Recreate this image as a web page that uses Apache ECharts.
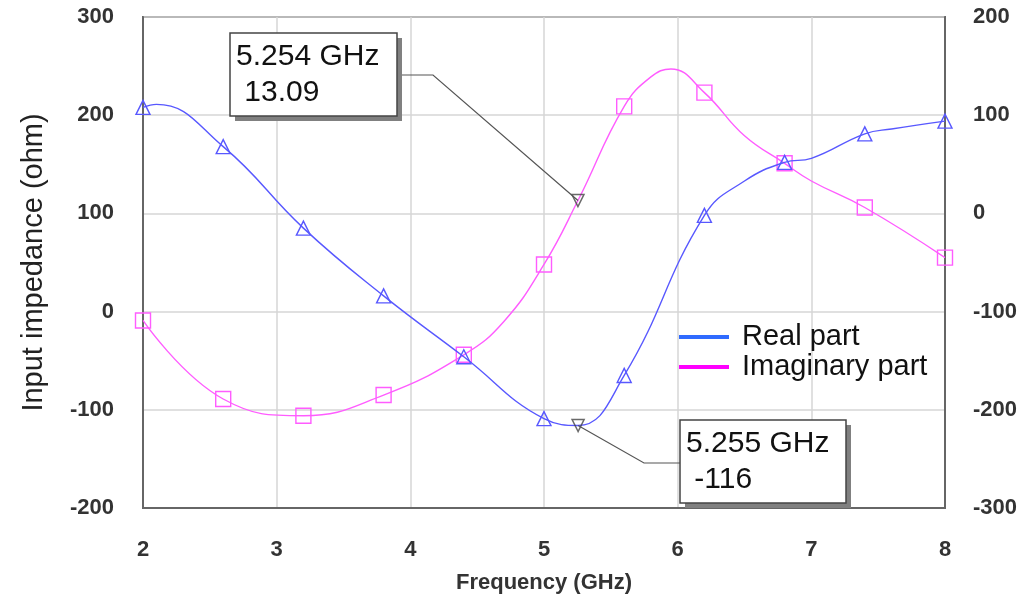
<!DOCTYPE html>
<html>
<head>
<meta charset="utf-8">
<script src="https://cdn.jsdelivr.net/npm/echarts@6/dist/echarts.min.js"></script>
<style>
  html, body { margin: 0; padding: 0; background: #fff; }
  #chart { width: 1029px; height: 599px; }
</style>
</head>
<body>
<div id="chart"></div>
<script>
// frequencies where the symbols sit (GHz)
var markerFreq = [2, 2.6, 3.2, 3.8, 4.4, 5.0, 5.6, 6.2, 6.8, 7.4, 8.0];

// real part (left axis, ohm)
var realFreq = [2, 2.1, 2.6, 3.2, 3.8, 4.4, 5.0, 5.255, 5.6, 6.2, 6.5, 6.8, 7.0, 7.4, 7.6, 8.0];
var realVal  = [208, 211, 168, 85, 16, -46, -109, -116, -65, 98, 133, 152, 156, 181, 186, 194];

// imaginary part (right axis, ohm)
var imagFreq = [2, 2.6, 3.2, 3.8, 4.4, 4.7, 5.0, 5.254, 5.6, 5.8, 5.95, 6.2, 6.5, 6.8, 7.0, 7.4, 8.0];
var imagVal  = [-109, -189, -206, -185, -144, -110, -52, 13.09, 109, 139, 147, 123, 79, 51, 33, 6, -45];

// marker readouts
var mkImag = [5.254, 13.09];
var mkReal = [5.255, -116];

var FONT = '"Liberation Sans", Arial, sans-serif';
var blue = '#5858ff';
var pink = '#ff5cff';

function buildData(freq, vals) {
  var out = [];
  for (var i = 0; i < freq.length; i++) {
    var item = { value: [freq[i], vals[i]] };
    if (markerFreq.indexOf(freq[i]) < 0) item.symbol = 'none';
    out.push(item);
  }
  return out;
}

var chartDom = document.getElementById('chart');
var myChart = echarts.init(chartDom);
var option;

var tickLabel = { fontFamily: FONT, fontSize: 22, fontWeight: 'bold', color: '#333' };

option = {
  backgroundColor: '#fff',
  animation: false,
  grid: { left: 143, right: 84, top: 17, bottom: 87, show: true, borderColor: '#666', borderWidth: 2 },
  legend: {
    orient: 'vertical',
    left: 674,
    top: 317,
    itemWidth: 50,
    itemHeight: 4,
    itemGap: 0,
    icon: 'rect',
    textStyle: { fontFamily: FONT, fontSize: 29, color: '#111', lineHeight: 30, padding: [0, 0, 0, 8] },
    data: [
      { name: 'Real part', itemStyle: { color: '#2f6bff', borderWidth: 0 } },
      { name: 'Imaginary part', itemStyle: { color: '#ff00ff', borderWidth: 0 } }
    ]
  },
  xAxis: {
    type: 'value',
    min: 2,
    max: 8,
    interval: 1,
    name: 'Frequency (GHz)',
    nameLocation: 'middle',
    nameGap: 64,
    nameTextStyle: { fontFamily: FONT, fontSize: 22, fontWeight: 'bold', color: '#333' },
    axisLine: { show: true, onZero: false, lineStyle: { color: '#666', width: 2 } },
    axisTick: { show: false },
    axisLabel: Object.assign({ margin: 31 }, tickLabel),
    splitLine: { show: true, lineStyle: { color: '#d6d6d6', width: 1.5 } }
  },
  yAxis: [
    {
      type: 'value',
      min: -200,
      max: 300,
      interval: 100,
      name: 'Input impedance (ohm)',
      nameLocation: 'middle',
      nameGap: 95,
      nameTextStyle: { fontFamily: FONT, fontSize: 29, color: '#222' },
      axisLine: { show: true, onZero: false, lineStyle: { color: '#666', width: 2 } },
      axisTick: { show: false },
      axisLabel: Object.assign({ margin: 29, padding: [10, 0, 0, 0] }, tickLabel),
      splitLine: { show: true, lineStyle: { color: '#d6d6d6', width: 1.5 } }
    },
    {
      type: 'value',
      min: -300,
      max: 200,
      interval: 100,
      axisLine: { show: true, onZero: false, lineStyle: { color: '#666', width: 2 } },
      axisTick: { show: false },
      axisLabel: Object.assign({ margin: 28, padding: [10, 0, 0, 0] }, tickLabel),
      splitLine: { show: false }
    }
  ],
  series: [
    {
      name: 'Real part',
      type: 'line',
      smooth: 0.45,
      yAxisIndex: 0,
      symbol: 'triangle',
      symbolSize: 14,
      lineStyle: { color: blue, width: 1.4 },
      itemStyle: { color: 'rgba(0,0,0,0)', borderColor: blue, borderWidth: 1.4 },
      data: buildData(realFreq, realVal),
      z: 3
    },
    {
      name: 'Imaginary part',
      type: 'line',
      smooth: 0.45,
      yAxisIndex: 1,
      symbol: 'rect',
      symbolSize: 15,
      lineStyle: { color: pink, width: 1.4 },
      itemStyle: { color: 'rgba(0,0,0,0)', borderColor: pink, borderWidth: 1.4 },
      data: buildData(imagFreq, imagVal),
      z: 2
    },
    {
      name: 'mk1',
      type: 'scatter',
      yAxisIndex: 1,
      symbol: 'triangle',
      symbolRotate: 180,
      symbolSize: 12,
      itemStyle: { color: 'rgba(0,0,0,0)', borderColor: '#444', borderWidth: 1.5 },
      data: [mkImag],
      z: 5
    },
    {
      name: 'mk2',
      type: 'scatter',
      yAxisIndex: 0,
      symbol: 'triangle',
      symbolRotate: 180,
      symbolSize: 12,
      itemStyle: { color: 'rgba(0,0,0,0)', borderColor: '#444', borderWidth: 1.5 },
      data: [mkReal],
      z: 5
    }
  ]
};

option && myChart.setOption(option);

// readout boxes with leader lines to the marker points
function readout(box, elbow, pt, line1, line2) {
  return [
    { type: 'polyline', shape: { points: [elbow[0], elbow[1], pt] }, style: { stroke: '#555', lineWidth: 1.2, fill: null }, z: 10 },
    { type: 'rect', shape: { x: box[0] + 5, y: box[1] + 5, width: box[2], height: box[3] }, style: { fill: '#808080' }, z: 11 },
    { type: 'rect', shape: { x: box[0], y: box[1], width: box[2], height: box[3] }, style: { fill: '#fff', stroke: '#444', lineWidth: 1.5 }, z: 12 },
    { type: 'text', x: box[0] + 6, y: box[1] + 24, style: { text: line1, font: '30px ' + FONT, fill: '#111', verticalAlign: 'middle' }, z: 13 },
    { type: 'text', x: box[0] + 6, y: box[1] + 60, style: { text: line2, font: '30px ' + FONT, fill: '#111', verticalAlign: 'middle' }, z: 13 }
  ];
}

var p1 = myChart.convertToPixel({ xAxisIndex: 0, yAxisIndex: 1 }, mkImag);
var p2 = myChart.convertToPixel({ xAxisIndex: 0, yAxisIndex: 0 }, mkReal);

myChart.setOption({
  graphic: readout([230, 33, 167, 83], [[397, 75], [433, 75]], p1, '5.254 GHz', ' 13.09')
    .concat(readout([680, 420, 166, 83], [[680, 463], [644, 463]], p2, '5.255 GHz', ' -116'))
});
</script>
</body>
</html>
